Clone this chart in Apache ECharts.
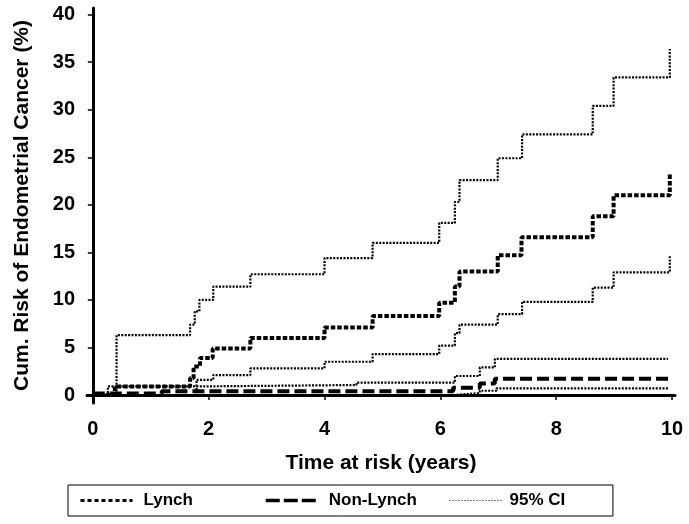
<!DOCTYPE html>
<html>
<head>
<meta charset="utf-8">
<script src="https://cdn.jsdelivr.net/npm/echarts@6/dist/echarts.min.js"></script>
<style>
html,body{margin:0;padding:0;background:#fff;}
#chart{width:689px;height:524px;}
</style>
</head>
<body>
<div id="chart"></div>
<script>
// Step-function data: [time (years), cumulative risk (%)]
const lynch = [[0,0],[0.38,0.9],[1.68,1.8],[1.74,3.0],[1.85,3.9],[2.07,4.9],[2.72,6.0],[4.0,7.1],[4.83,8.3],[5.98,9.7],[6.25,11.4],[6.33,13.0],[6.99,14.7],[7.40,16.6],[8.63,18.8],[8.99,21.0],[9.96,23.3]];
const lynchUpper = [[0,0],[0.41,6.3],[1.68,7.4],[1.76,8.8],[1.84,10.0],[2.08,11.4],[2.72,12.7],[4.0,14.4],[4.83,16.0],[5.98,18.1],[6.25,20.3],[6.33,22.6],[6.99,24.9],[7.41,27.4],[8.63,30.4],[8.99,33.4],[9.96,36.4]];
const lynchLower = [[0,0],[1.79,1.6],[2.08,2.1],[2.72,2.8],[4.0,3.5],[4.83,4.3],[5.98,5.2],[6.25,6.5],[6.33,7.4],[6.99,8.5],[7.41,9.8],[8.63,11.3],[8.99,12.9],[9.96,14.6]];
const nonLynch = [[0,0.15],[1.19,0.4],[6.22,0.77],[6.68,1.2],[6.94,1.7],[9.93,1.7]];
const nonLynchUpper = [[0,0],[0.26,0.9],[1.8,1.05],[4.55,1.3],[6.25,2.0],[6.68,2.9],[6.94,3.8],[9.93,3.8]];
const nonLynchLower = [[0,0],[6.25,0.2],[6.68,0.45],[6.97,0.7],[9.93,0.7]];
const xTicks = [0,2,4,6,8,10];
const yTicks = [0,5,10,15,20,25,30,35,40];
const legendNames = ['Lynch','Non-Lynch','95% CI'];

const FONT = 'Liberation Sans, Arial, sans-serif';
const chart = echarts.init(document.getElementById('chart'), null, {renderer:'canvas'});

const ciStyle = {color:'#000', width:2.2, type:[2,1.4]};
function stepSeries(name, data, lineStyle, z) {
  return {
    name: name, type: 'line', step: 'end', data: data,
    symbol: 'none', silent: true, animation: false, z: z,
    lineStyle: lineStyle, itemStyle: {color: '#000'}
  };
}

function legendPart(idx, left, padding, bordered, lineStyle, textPad) {
  return {
    left: left, top: 485,
    orient: 'horizontal',
    padding: padding,
    itemWidth: 52, itemHeight: 14,
    borderColor: '#000', borderWidth: bordered ? 1 : 0,
    selectedMode: false,
    itemStyle: {opacity: 0},
    textStyle: {fontFamily: FONT, fontSize: 17, fontWeight: 'bold', color: '#000', padding: [0,0,0,textPad]},
    data: [{name: legendNames[idx], lineStyle: lineStyle}]
  };
}

chart.setOption({
  animation: false,
  backgroundColor: '#fff',
  grid: {left: 87, right: 14, top: 8, bottom: 121, containLabel: false},
  xAxis: {
    type: 'value', min: -0.1, max: 10.05,
    name: 'Time at risk (years)', nameLocation: 'middle', nameGap: 50,
    nameTextStyle: {fontFamily: FONT, fontWeight: 'bold', fontSize: 21, color: '#000'},
    axisLine: {show: true, lineStyle: {color: '#000', width: 3}},
    axisTick: {show: true, length: 5, customValues: xTicks, lineStyle: {color: '#000', width: 1.5}},
    axisLabel: {customValues: xTicks, margin: 16, fontFamily: FONT, fontWeight: 'bold', fontSize: 20, color: '#000'},
    splitLine: {show: false}
  },
  yAxis: {
    type: 'value', min: -0.84, max: 40.7,
    name: 'Cum. Risk of Endometrial Cancer (%)', nameLocation: 'middle', nameGap: 54, nameRotate: 90,
    nameTextStyle: {fontFamily: FONT, fontWeight: 'bold', fontSize: 21, color: '#000'},
    axisLine: {show: true, lineStyle: {color: '#000', width: 3}},
    axisTick: {show: true, length: 5, customValues: yTicks, lineStyle: {color: '#000', width: 1.5}},
    axisLabel: {customValues: yTicks, margin: 12, fontFamily: FONT, fontWeight: 'bold', fontSize: 20, color: '#000'},
    splitLine: {show: false}
  },
  legend: [
    legendPart(0, 68, [7, 420, 7, 11], true, {color:'#000', width:3, type:[4,3]}, 6),
    legendPart(1, 264, [7, 0, 7, 0], false, {color:'#000', width:3.5, type:[14,4]}, 6),
    legendPart(2, 449, [7, 0, 7, 0], false, {color:'#000', width:1, type:[1,2]}, 3)
  ],
  series: [
    stepSeries(legendNames[0], lynch, {color:'#000', width:4, type:[4.5,2]}, 5),
    stepSeries(legendNames[1], nonLynch, {color:'#000', width:4, type:[12,5]}, 4),
    stepSeries(legendNames[2], lynchUpper, ciStyle, 3),
    stepSeries('ci2', lynchLower, ciStyle, 3),
    stepSeries('ci3', nonLynchUpper, ciStyle, 3),
    stepSeries('ci4', nonLynchLower, ciStyle, 3)
  ]
});
</script>
</body>
</html>
